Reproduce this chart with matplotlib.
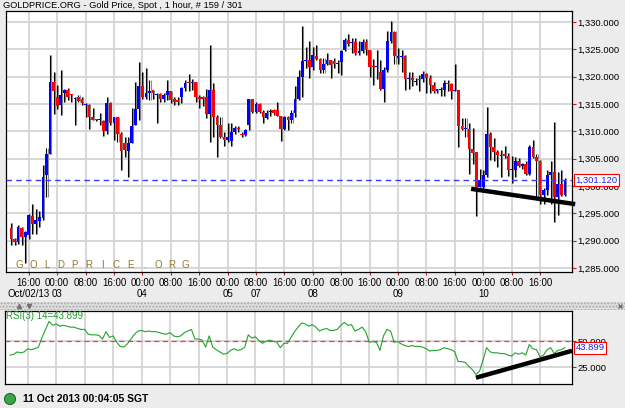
import matplotlib
matplotlib.use("Agg")
import matplotlib.pyplot as plt
import matplotlib.transforms as mtransforms
from matplotlib.patches import Rectangle, Circle
import numpy as np

plt.rcParams['font.family'] = ['Liberation Sans', 'DejaVu Sans']

# hourly candles (index = bar number)
opens = [1292.3, 1290.4, 1289.8, 1292.3, 1290.7, 1291.0, 1294.5, 1293.0, 1293.7, 1294.1,
         1302.0, 1305.9, 1319.1, 1316.2, 1314.8, 1317.0, 1317.6, 1316.9, 1315.9, 1316.2,
         1316.0, 1314.9, 1314.8, 1312.6, 1312.2, 1312.1, 1311.9, 1310.1, 1315.2, 1311.6,
         1312.6, 1309.5, 1307.8, 1306.5, 1307.9, 1311.2, 1314.0, 1318.3, 1316.3, 1317.1,
         1317.6, 1316.7, 1316.8, 1316.0, 1316.6, 1317.3, 1316.0, 1315.8, 1316.2, 1317.9,
         1318.9, 1318.8, 1319.1, 1316.2, 1316.2, 1316.2, 1313.2, 1317.6, 1312.7, 1311.2,
         1309.0, 1308.4, 1308.3, 1309.8, 1310.6, 1309.4, 1309.3, 1311.2, 1315.9, 1313.6,
         1315.0, 1313.6, 1312.4, 1313.5, 1313.9, 1313.9, 1312.8, 1310.5, 1312.7, 1312.1,
         1313.3, 1315.9, 1319.9, 1322.9, 1323.0, 1321.8, 1323.8, 1323.2, 1321.2, 1322.4,
         1323.0, 1322.9, 1322.3, 1322.6, 1324.9, 1326.7, 1326.1, 1326.3, 1324.3, 1324.6,
         1326.3, 1324.8, 1322.0, 1321.7, 1320.9, 1317.7, 1321.2, 1326.6, 1328.1, 1323.4,
         1323.6, 1323.8, 1319.5, 1319.7, 1319.1, 1319.6, 1319.5, 1320.5, 1319.7, 1318.5,
         1317.3, 1317.6, 1317.6, 1318.9, 1318.7, 1317.3, 1317.6, 1310.9, 1310.4, 1310.4,
         1306.7, 1306.3, 1299.9, 1299.9, 1302.0, 1309.5, 1307.1, 1306.3, 1305.5, 1305.8,
         1305.5, 1302.9, 1303.0, 1304.6, 1303.7, 1304.1, 1302.3, 1307.1, 1305.4, 1304.6,
         1298.4, 1299.2, 1302.0, 1302.6, 1298.0, 1300.4, 1298.4]
highs = [1293.2, 1290.6, 1292.9, 1292.6, 1291.8, 1294.9, 1296.8, 1295.9, 1295.4, 1303.8,
         1306.9, 1324.0, 1320.9, 1318.5, 1321.3, 1317.7, 1317.9, 1316.9, 1316.3, 1316.6,
         1316.2, 1315.1, 1315.0, 1314.2, 1312.3, 1313.3, 1312.1, 1316.3, 1315.4, 1312.7,
         1312.7, 1309.8, 1309.0, 1309.0, 1314.2, 1319.1, 1322.6, 1320.9, 1321.5, 1319.3,
         1317.6, 1317.0, 1317.1, 1317.0, 1319.3, 1317.3, 1316.2, 1316.2, 1318.1, 1319.3,
         1320.4, 1319.6, 1319.1, 1316.7, 1316.5, 1317.7, 1325.8, 1318.9, 1313.0, 1312.6,
         1309.8, 1311.6, 1311.5, 1311.0, 1311.0, 1309.8, 1310.5, 1316.0, 1316.0, 1315.4,
         1315.1, 1313.9, 1313.9, 1314.0, 1314.0, 1315.4, 1312.8, 1312.8, 1312.8, 1313.9,
         1318.3, 1321.2, 1329.3, 1325.5, 1326.6, 1325.4, 1325.8, 1323.4, 1323.4, 1324.3,
         1323.0, 1323.4, 1323.0, 1324.9, 1327.0, 1327.8, 1327.0, 1327.0, 1326.6, 1326.8,
         1326.8, 1324.9, 1323.3, 1324.9, 1323.0, 1321.8, 1328.4, 1330.2, 1328.4, 1325.2,
         1324.8, 1324.0, 1320.9, 1320.9, 1319.7, 1320.3, 1321.0, 1320.6, 1320.3, 1319.1,
         1317.7, 1318.1, 1319.4, 1319.4, 1318.8, 1322.3, 1317.6, 1312.4, 1312.4, 1311.5,
         1310.6, 1306.3, 1303.2, 1302.9, 1314.4, 1309.8, 1308.7, 1306.6, 1306.6, 1307.3,
         1306.0, 1305.5, 1305.4, 1305.1, 1304.3, 1304.5, 1307.5, 1308.5, 1305.9, 1304.8,
         1299.6, 1303.0, 1304.5, 1311.8, 1302.6, 1303.0, 1301.4]
lows = [1289.2, 1289.2, 1289.5, 1289.2, 1285.9, 1290.4, 1291.3, 1291.3, 1292.6, 1293.8,
        1298.0, 1305.9, 1313.1, 1314.0, 1313.0, 1315.4, 1315.7, 1315.4, 1311.2, 1315.4,
        1314.8, 1312.6, 1310.5, 1312.1, 1311.9, 1311.2, 1309.1, 1309.6, 1311.2, 1308.5,
        1308.1, 1303.0, 1305.4, 1301.7, 1307.8, 1311.2, 1312.1, 1316.0, 1315.9, 1315.7,
        1316.0, 1311.5, 1315.4, 1315.4, 1315.7, 1315.1, 1314.8, 1314.8, 1315.1, 1317.3,
        1317.3, 1317.6, 1315.4, 1314.2, 1314.6, 1312.4, 1308.1, 1309.0, 1305.4, 1308.7,
        1307.3, 1308.1, 1307.3, 1309.6, 1309.8, 1309.0, 1309.2, 1310.2, 1313.3, 1313.3,
        1313.3, 1311.6, 1312.2, 1312.8, 1313.0, 1312.8, 1308.2, 1310.2, 1310.2, 1311.5,
        1312.7, 1315.7, 1316.3, 1321.5, 1319.7, 1321.2, 1323.0, 1320.7, 1320.6, 1322.1,
        1319.7, 1321.5, 1320.6, 1320.3, 1324.6, 1325.6, 1324.3, 1324.0, 1324.0, 1324.3,
        1324.0, 1320.0, 1318.5, 1319.6, 1317.6, 1315.4, 1320.9, 1326.1, 1322.4, 1322.4,
        1320.9, 1317.6, 1317.7, 1318.3, 1318.5, 1317.3, 1319.1, 1317.1, 1317.1, 1317.1,
        1317.0, 1316.4, 1316.4, 1317.3, 1316.0, 1317.3, 1307.1, 1310.2, 1309.0, 1302.3,
        1304.0, 1294.5, 1299.9, 1299.6, 1301.7, 1304.8, 1304.5, 1303.5, 1301.7, 1305.1,
        1301.9, 1300.5, 1301.7, 1303.5, 1303.2, 1302.0, 1302.0, 1305.1, 1297.9, 1296.8,
        1296.8, 1298.4, 1296.8, 1293.5, 1294.7, 1298.1, 1298.1]
closes = [1290.4, 1289.8, 1292.6, 1290.7, 1291.6, 1294.7, 1293.1, 1293.8, 1294.4, 1301.7,
          1305.9, 1319.1, 1317.3, 1314.6, 1316.6, 1317.6, 1316.2, 1316.6, 1315.9, 1315.6,
          1315.1, 1314.9, 1312.7, 1312.1, 1312.0, 1312.1, 1310.1, 1315.2, 1311.6, 1312.6,
          1309.6, 1306.5, 1306.6, 1307.9, 1310.9, 1314.0, 1318.3, 1316.3, 1317.1, 1317.4,
          1317.0, 1316.8, 1316.0, 1316.6, 1317.3, 1315.7, 1315.4, 1315.4, 1317.9, 1318.9,
          1318.8, 1319.1, 1316.2, 1316.0, 1316.0, 1313.2, 1317.6, 1312.7, 1311.2, 1309.0,
          1308.4, 1309.0, 1309.8, 1310.7, 1310.5, 1309.3, 1310.2, 1315.9, 1313.6, 1315.0,
          1313.6, 1312.6, 1313.3, 1313.6, 1313.3, 1312.8, 1310.5, 1312.7, 1312.1, 1313.3,
          1315.9, 1319.9, 1322.9, 1323.0, 1321.8, 1324.0, 1323.2, 1321.2, 1322.4, 1323.0,
          1322.1, 1322.3, 1322.3, 1324.6, 1326.7, 1325.9, 1326.3, 1324.3, 1324.6, 1326.3,
          1324.8, 1321.7, 1321.8, 1322.0, 1317.7, 1321.2, 1326.6, 1328.1, 1323.7, 1323.7,
          1323.7, 1319.5, 1319.7, 1319.3, 1319.1, 1319.4, 1320.5, 1319.7, 1318.5, 1317.3,
          1317.7, 1317.6, 1318.9, 1318.7, 1317.3, 1317.6, 1310.9, 1310.4, 1310.4, 1306.7,
          1306.1, 1299.9, 1301.1, 1302.0, 1309.5, 1307.1, 1306.3, 1305.7, 1305.7, 1305.5,
          1303.0, 1302.9, 1304.6, 1303.7, 1304.1, 1302.3, 1307.1, 1305.4, 1304.6, 1298.4,
          1299.2, 1302.0, 1302.6, 1298.0, 1300.4, 1298.4, 1301.1]
rsi = [36.6, 37.2, 39.7, 38.8, 39.7, 42.8, 41.9, 42.8, 44.4, 53.8,
       61.6, 69.4, 65.6, 66.9, 64.7, 65.6, 64.7, 63.8, 63.8, 62.5,
       61.6, 61.6, 56.9, 56.3, 56.3, 55.9, 52.2, 59.4, 53.8, 55.3,
       49.1, 45.0, 44.4, 47.5, 52.2, 56.9, 60.0, 60.6, 59.4, 60.0,
       59.4, 59.4, 58.4, 57.5, 56.9, 58.4, 55.3, 54.4, 55.3, 58.4,
       60.0, 61.6, 52.2, 52.2, 51.2, 44.4, 55.3, 44.4, 41.9, 39.7,
       37.5, 38.1, 41.2, 42.8, 41.2, 41.9, 44.4, 56.3, 53.1, 54.4,
       50.6, 48.1, 50.0, 51.2, 50.0, 49.1, 43.8, 48.1, 48.1, 53.8,
       59.4, 63.8, 67.8, 66.9, 64.7, 66.2, 63.8, 60.0, 61.6, 62.5,
       60.6, 60.6, 61.6, 65.6, 68.4, 65.6, 66.2, 60.0, 61.6, 63.8,
       59.4, 49.1, 49.7, 49.1, 41.2, 55.3, 61.6, 60.0, 49.1, 49.7,
       47.5, 45.9, 45.0, 45.9, 45.0, 45.0, 44.4, 42.8, 40.6, 41.2,
       41.2, 41.9, 43.8, 42.8, 41.9, 40.0, 30.3, 30.3, 29.4, 25.6,
       22.5, 17.8, 20.9, 31.9, 43.8, 39.7, 38.8, 38.8, 38.1, 38.1,
       36.6, 35.6, 38.8, 37.5, 38.8, 36.6, 46.9, 42.8, 41.9, 35.0,
       36.6, 41.9, 43.8, 38.1, 41.2, 41.9, 43.899]

last_price = 1301.12
price_ticks = [1285, 1290, 1295, 1300, 1305, 1310, 1315, 1320, 1325, 1330]
tick_times = ["16:00", "00:00", "08:00", "16:00", "00:00", "08:00", "16:00", "00:00",
              "08:00", "16:00", "00:00", "08:00", "16:00", "00:00", "08:00", "16:00",
              "00:00", "08:00", "16:00"]
day_labels = ["03", "04", "05", "07", "08", "09", "10"]
day_bars = [13, 37, 61, 69, 85, 109, 133]

# hand drawn support lines (bar, value)
price_trend_x = [129.6, 158.9]
price_trend_y = [1299.5, 1296.7]
rsi_trend_x = [131.0, 158.0]
rsi_trend_y = [14.6, 40.8]

W, H = 625, 408
def box(l, t, r, b):
    return [l / W, 1 - b / H, (r - l) / W, (b - t) / H]

fig = plt.figure(figsize=(6.25, 4.08), dpi=100, facecolor='#ececec')
ov = fig.add_axes([0, 0, 1, 1], zorder=-1)
ov.set_xlim(0, W)
ov.set_ylim(H, 0)
ov.axis('off')
ax = fig.add_axes(box(6, 11, 572, 272))
rx = fig.add_axes(box(5, 311, 572, 384))

grid_col = '#d4d4d4'
tick_pos = list(range(5, 150, 8))

# ---- price panel
x = np.arange(len(closes))
o = np.array(opens); c = np.array(closes); h = np.array(highs); l = np.array(lows)
colors = np.where(c >= o, '#0000ff', '#ff0000')
ax.vlines(x + 0.3, l, h, color='#8a8a8a', lw=0.8, zorder=2)
ax.vlines(x, l, h, color='black', lw=0.8, zorder=3)
ax.bar(x, np.maximum(np.abs(c - o), 0.18), bottom=np.minimum(o, c), width=0.78,
       color=colors, linewidth=0, zorder=4)

ax.axhline(last_price, color='#3a3aff', lw=1.0, dashes=(4, 3), zorder=5)
ax.plot(price_trend_x, price_trend_y, color='black', lw=3.2, solid_capstyle='butt',
        clip_on=False, zorder=6)

ax.set_xlim(-1.4, 158.0)
ax.set_ylim(1284.3, 1332.0)
ax.yaxis.tick_right()
ax.set_yticks(price_ticks)
ax.set_yticklabels([f'{v:,.3f}' for v in price_ticks])
ax.set_xticks(tick_pos)
ax.set_xticklabels(tick_times)
ax.tick_params(axis='y', colors='red', labelcolor='black', length=3, width=0.8,
               pad=1, labelsize=6.8)
ax.tick_params(axis='x', colors='red', labelcolor='black', length=2, width=0.8,
               pad=2.5, labelsize=7)
ax.grid(True, color=grid_col, lw=1.3)
ax.set_axisbelow(True)
for s in ax.spines.values():
    s.set_color('black')
    s.set_linewidth(0.9)

ytr = mtransforms.blended_transform_factory(ax.transAxes, ax.transData)
ax.text(1.006, last_price, f'{last_price:,.3f}', transform=ytr, ha='left', va='center',
        fontsize=6.8, color='#2020ff', zorder=7, clip_on=False,
        bbox=dict(boxstyle='square,pad=0.15', fc='white', ec='red', lw=0.8))

xtr = mtransforms.blended_transform_factory(ax.transData, ax.transAxes)
for pos, lab in zip(day_bars, day_labels):
    ax.text(pos, -0.085, lab, transform=xtr, ha='center', va='center', fontsize=7)
ax.text(0.002, -0.085, 'Oct/02/13', transform=ax.transAxes, ha='left', va='center',
        fontsize=7)

for k, ch in enumerate('GOLDPRICE.ORG'):
    ax.text((19 + 13.9 * k - 6) / 566, 0.027, ch, transform=ax.transAxes, ha='center',
            va='center', fontsize=7, color='#8f7a28', zorder=1)

# ---- RSI panel
rx.plot(x, rsi, color='#22a22e', lw=0.8, zorder=3)
rx.axhline(50, color='#ff3b3b', lw=0.9, dashes=(4, 3), zorder=2)
rx.plot(rsi_trend_x, rsi_trend_y, color='black', lw=3.2, solid_capstyle='butt',
        clip_on=False, zorder=6)
rx.set_xlim(ax.get_xlim())
rx.set_ylim(8.5, 79.5)
rx.yaxis.tick_right()
rx.set_yticks([25, 50])
rx.set_yticklabels(['25.000', '50.000'])
rx.set_xticks(tick_pos)
rx.tick_params(axis='x', length=0, labelbottom=False)
rx.tick_params(axis='y', colors='red', labelcolor='black', length=3, width=0.8,
               pad=1, labelsize=6.8)
rx.grid(True, color=grid_col, lw=1.3)
rx.set_axisbelow(True)
for s in rx.spines.values():
    s.set_color('black')
    s.set_linewidth(0.9)
rx.text(0.002, 0.93, f'RSI(3) 14={rsi[-1]:.3f}', transform=rx.transAxes, ha='left',
        va='center', fontsize=7, color='#1e9a28')
rtr = mtransforms.blended_transform_factory(rx.transAxes, rx.transData)
rx.text(1.006, rsi[-1], f'{rsi[-1]:.3f}', transform=rtr, ha='left', va='center',
        fontsize=6.8, color='#2020ff', zorder=7, clip_on=False,
        bbox=dict(boxstyle='square,pad=0.15', fc='white', ec='red', lw=0.8))

# ---- window chrome
ov.text(3, 5.5, 'GOLDPRICE.ORG - Gold Price, Spot , 1 hour, # 159 / 301',
        ha='left', va='center', fontsize=6.7)
ov.add_patch(Rectangle((0, 302), W, 8, facecolor='#e0e0e0', edgecolor='#a9a9a9',
                       hatch='.....', lw=0))
ov.plot([19], [306], marker='^', ms=3, color='#707070')
ov.plot([29], [306], marker='v', ms=3, color='#707070')
ov.plot([620], [306], marker='x', ms=3, color='#707070')
ov.add_patch(Circle((10, 399), 5.5, facecolor='#3aa64a', edgecolor='#1f6a2c', lw=0.8))
ov.text(23, 399, '11 Oct 2013 00:04:05 SGT', ha='left', va='center', fontsize=7.5,
        fontweight='bold')

fig.savefig('out.png', dpi=100, facecolor=fig.get_facecolor())
